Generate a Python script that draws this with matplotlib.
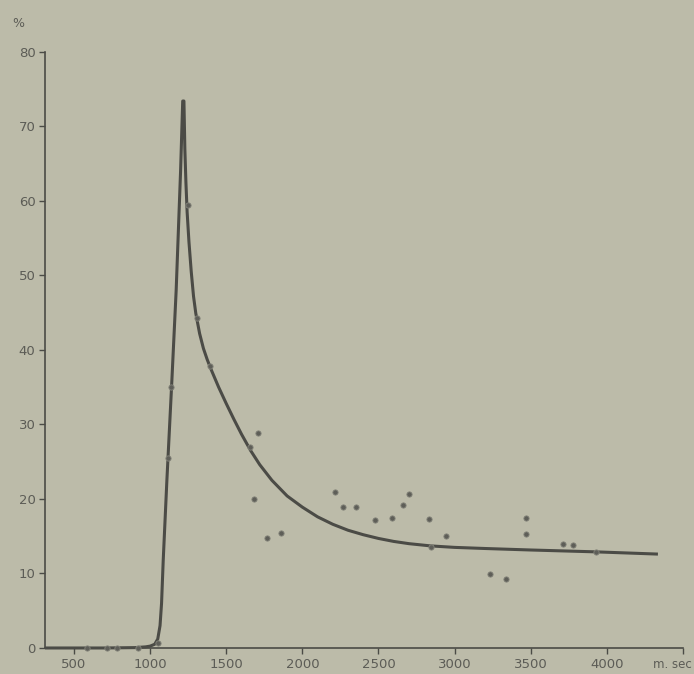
import matplotlib
matplotlib.use("Agg")
import matplotlib.pyplot as plt
from matplotlib.transforms import ScaledTranslation

# fitted curve
curve_ms = [310, 500, 700, 900, 970, 1000, 1030, 1050, 1065, 1075, 1086, 1110, 1143, 1171,
            1200, 1214, 1222, 1228, 1235, 1243, 1255, 1270, 1285, 1300, 1325, 1350, 1375,
            1400, 1450, 1500, 1550, 1600, 1660, 1720, 1800, 1900, 2000, 2100, 2200, 2300,
            2400, 2500, 2600, 2700, 2842, 3000, 3200, 3500, 3928, 4336]
curve_pct = [0.0, 0.0, 0.0, 0.05, 0.15, 0.25, 0.5, 1.2, 3.0, 6.0, 11.8, 22.5, 36.0, 48.0,
             64.0, 73.4, 73.4, 67.0, 62.5, 58.5, 54.5, 50.5, 47.2, 44.9, 42.2, 40.2, 38.7,
             37.4, 35.0, 32.8, 30.7, 28.7, 26.5, 24.6, 22.5, 20.4, 18.9, 17.6, 16.6, 15.8,
             15.2, 14.7, 14.3, 14.0, 13.7, 13.5, 13.35, 13.15, 12.9, 12.6]

# observed points
obs_ms = [586, 717, 783, 921, 1050, 1118, 1138, 1250, 1309, 1395, 1655, 1684, 1711, 1770, 1862,
          2217, 2270, 2350, 2480, 2586, 2662, 2698, 2829, 2842, 2941, 3233, 3336,
          3467, 3467, 3715, 3777, 3928]
obs_pct = [0.0, 0.0, 0.0, 0.0, 0.7, 25.5, 35.0, 59.5, 44.3, 37.8, 27.0, 20.0, 28.8, 14.8, 15.4,
           20.9, 18.9, 18.9, 17.2, 17.4, 19.2, 20.6, 17.3, 13.6, 15.0, 9.9, 9.3,
           17.4, 15.3, 14.0, 13.8, 12.9]

xticks = [500, 1000, 1500, 2000, 2500, 3000, 3500, 4000, 4500]
xticklabels = ["500", "1000", "1500", "2000", "2500", "3000", "3500", "4000", "m. sec"]
yticks = [0, 10, 20, 30, 40, 50, 60, 70, 80]

bg = "#bcbba9"
ink = "#4b4b46"
txt = "#5c5c56"

fig = plt.figure(figsize=(6.94, 6.74), dpi=100, facecolor=bg)
ax = fig.add_axes([0.065, 0.0386, 0.919, 0.8845], facecolor=bg)

ax.plot(curve_ms, curve_pct, color=ink, lw=2.2, solid_capstyle="butt",
        solid_joinstyle="round", zorder=3, clip_on=False)
ax.plot(obs_ms, obs_pct, ls="none", marker="o", ms=3.8, mfc="#5e5e58", mec="#85857b",
        mew=0.6, zorder=4, clip_on=False)

ax.set_xlim(310, 4500)
ax.set_ylim(0, 80)
ax.set_xticks(xticks)
ax.set_xticklabels(xticklabels)
ax.set_yticks(yticks)
ax.set_yticklabels([str(v) for v in yticks])

for s in ["top", "right"]:
    ax.spines[s].set_visible(False)
for s in ["left", "bottom"]:
    ax.spines[s].set_color(ink)
    ax.spines[s].set_linewidth(1.2)

ax.tick_params(axis="both", direction="out", length=4.5, width=1.0, color=ink,
               labelcolor=txt, labelsize=9.5, pad=2.5)
ax.tick_params(axis="x", pad=3)

last = ax.get_xticklabels()[-1]
last.set_fontsize(8.5)
last.set_transform(last.get_transform() + ScaledTranslation(-11 / 100, 0, fig.dpi_scale_trans))

fig.text(0.027, 0.965, "%", color=txt, fontsize=9, ha="center", va="center")

fig.savefig("out.png", dpi=100, facecolor=bg)
